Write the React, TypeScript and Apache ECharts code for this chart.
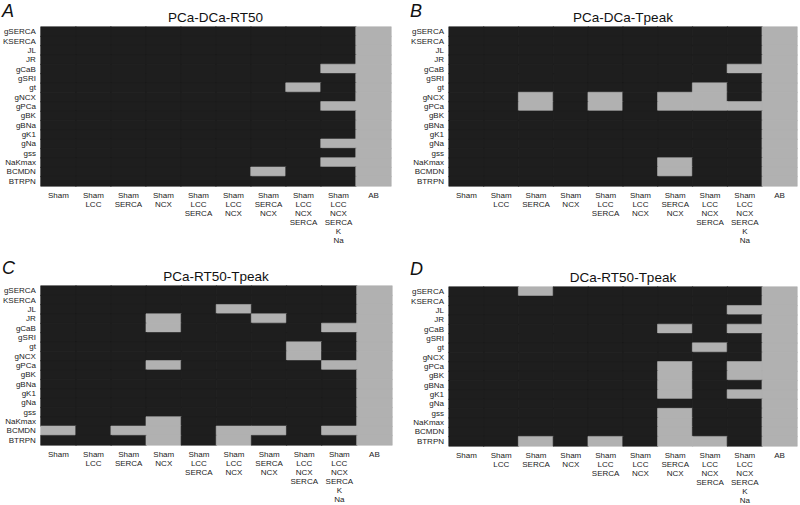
import React, { useEffect, useRef } from "react";
import * as echarts from "echarts";

const parameters = [
  "gSERCA", "KSERCA", "JL", "JR", "gCaB", "gSRI", "gt", "gNCX", "gPCa",
  "gBK", "gBNa", "gK1", "gNa", "gss", "NaKmax", "BCMDN", "BTRPN",
];

const models = [
  "Sham",
  "Sham\nLCC",
  "Sham\nSERCA",
  "Sham\nNCX",
  "Sham\nLCC\nSERCA",
  "Sham\nLCC\nNCX",
  "Sham\nSERCA\nNCX",
  "Sham\nLCC\nNCX\nSERCA",
  "Sham\nLCC\nNCX\nSERCA\nK\nNa",
  "AB",
];

// 1 = parameter value in the AB (light) region, 0 = Sham-like (dark); one string per parameter row
const panelA = [
  "0000000001", "0000000001", "0000000001", "0000000001", "0000000011",
  "0000000001", "0000000101", "0000000001", "0000000011", "0000000001",
  "0000000001", "0000000001", "0000000011", "0000000001", "0000000011",
  "0000001001", "0000000001",
];
const panelB = [
  "0000000001", "0000000001", "0000000001", "0000000001", "0000000011",
  "0000000001", "0000000101", "0010101101", "0010101111", "0000000001",
  "0000000001", "0000000001", "0000000001", "0000000001", "0000001001",
  "0000001001", "0000000001",
];
const panelC = [
  "0000000001", "0000000001", "0000010001", "0001001001", "0001000011",
  "0000000001", "0000000101", "0000000101", "0001000011", "0000000001",
  "0000000001", "0000000001", "0000000001", "0000000001", "0001000001",
  "1011011011", "0001010001",
];
const panelD = [
  "0010000001", "0000000001", "0000000011", "0000000001", "0000001011",
  "0000000001", "0000000101", "0000000001", "0000001011", "0000001011",
  "0000001001", "0000001011", "0000000001", "0000001001", "0000001001",
  "0000001001", "0010101101",
];

const panelTitles = ["PCa-DCa-RT50", "PCa-DCa-Tpeak", "PCa-RT50-Tpeak", "DCa-RT50-Tpeak"];
const panelLetters = ["A", "B", "C", "D"];
const panels = [panelA, panelB, panelC, panelD];

const DARK = "#1e1e1e";
const LIGHT = "#b1b1b1";
const FONT = "Liberation Sans, Arial, Helvetica, sans-serif";

const grids = [
  { left: 40, top: 27, width: 351, height: 159 },
  { left: 449, top: 27, width: 348, height: 159 },
  { left: 40, top: 286, width: 352, height: 159 },
  { left: 449, top: 287, width: 348, height: 159 },
];

const letterPos = [
  { left: 2, top: 2 },
  { left: 410, top: 2 },
  { left: 2, top: 259 },
  { left: 410, top: 260 },
];

function toData(rows: string[]) {
  const out: any[] = [];
  rows.forEach((row, r) => {
    for (let c = 0; c < row.length; c++) {
      const v = Number(row[c]);
      const col = v ? LIGHT : DARK;
      out.push({
        value: [c, r, v],
        itemStyle: { borderColor: col, borderWidth: 0.6 },
      });
    }
  });
  return out;
}

export default function App() {
  const ref = useRef<HTMLDivElement>(null);
  useEffect(() => {
    if (!ref.current) return;
    const chart = echarts.init(ref.current, undefined, { renderer: "svg" });
    const titles: any[] = [];
    grids.forEach((g, i) => {
      titles.push({
        text: panelTitles[i],
        left: g.left + g.width / 2,
        top: g.top - 17,
        textAlign: "center",
        padding: 0,
        textStyle: { fontFamily: FONT, fontSize: 13.5, fontWeight: "normal", color: "#111" },
      });
      titles.push({
        text: panelLetters[i],
        left: letterPos[i].left,
        top: letterPos[i].top,
        padding: 0,
        textStyle: { fontFamily: FONT, fontSize: 18, fontStyle: "italic", fontWeight: "normal", color: "#111" },
      });
    });
    chart.setOption({
      animation: false,
      backgroundColor: "#ffffff",
      title: titles,
      grid: grids.map((g) => ({ ...g, containLabel: false })),
      xAxis: grids.map((_, i) => ({
        type: "category",
        gridIndex: i,
        data: models,
        axisTick: { show: false },
        axisLine: { show: false },
        splitLine: { show: false },
        axisLabel: {
          interval: 0,
          fontFamily: FONT,
          fontSize: 8,
          lineHeight: 9,
          color: "#222",
          margin: 5,
          verticalAlign: "top",
        },
      })),
      yAxis: grids.map((_, i) => ({
        type: "category",
        gridIndex: i,
        data: parameters,
        inverse: true,
        axisTick: { show: false },
        axisLine: { show: false },
        splitLine: { show: false },
        axisLabel: {
          interval: 0,
          fontFamily: FONT,
          fontSize: 8,
          color: "#222",
          margin: 5,
        },
      })),
      visualMap: {
        type: "piecewise",
        show: false,
        dimension: 2,
        seriesIndex: [0, 1, 2, 3],
        pieces: [
          { value: 0, color: DARK },
          { value: 1, color: LIGHT },
        ],
      },
      series: panels.map((p, i) => ({
        type: "heatmap",
        xAxisIndex: i,
        yAxisIndex: i,
        data: toData(p),
        emphasis: { disabled: true },
      })),
    });
    return () => chart.dispose();
  }, []);
  return (
    <div
      ref={ref}
      style={{ position: "fixed", left: 0, top: 0, width: 800, height: 505, background: "#fff" }}
    />
  );
}
